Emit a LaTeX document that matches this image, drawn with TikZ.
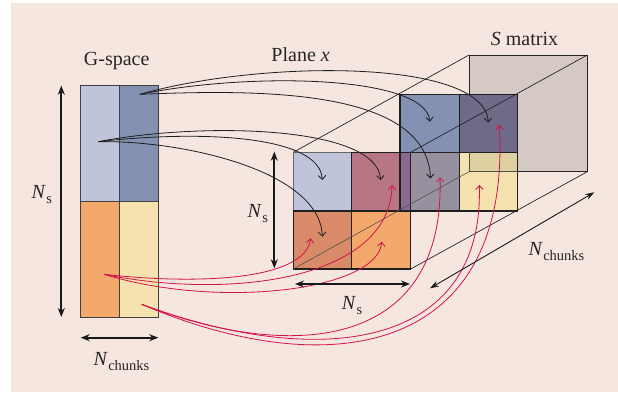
\documentclass[tikz,border=0pt]{standalone}
\usepackage{fontspec}
\setmainfont{Liberation Serif}
\usetikzlibrary{arrows.meta}
\definecolor{bgc}{HTML}{F5E6E0}
\definecolor{lblue}{HTML}{BFC4DA}
\definecolor{dblue}{HTML}{8591B3}
\definecolor{orng}{HTML}{F3A96C}
\definecolor{ylw}{HTML}{F5E2AF}
\definecolor{terra}{HTML}{D98A68}
\definecolor{mauve}{HTML}{B87583}
\definecolor{pstrip}{HTML}{8A6A8E}
\definecolor{grayc}{HTML}{97919F}
\definecolor{dpurp}{HTML}{6E6A88}
\definecolor{backg}{HTML}{D4C9C5}
\definecolor{tanc}{HTML}{DED0A0}
\definecolor{crim}{HTML}{D2124A}
\newcommand{\Nlab}[1]{\textit{N}\kern0.5pt\raisebox{-0.27em}{\fontsize{14.5}{15}\selectfont #1}}
\begin{document}
\begin{tikzpicture}[x=1pt,y=-1pt,
  cellbd/.style={draw=black!88, line width=1.1pt},
  gcell/.style={draw=black!75, line width=0.9pt},
  boxedge/.style={draw=black!85, line width=0.7pt},
  hidden/.style={draw=black!70, line width=0.55pt},
  blkarrow/.style={draw=black!88, line width=0.8pt, -{Straight Barb[length=4pt,width=7.5pt]}},
  redarrow/.style={draw=crim, line width=0.8pt, -{Straight Barb[length=4pt,width=7.5pt]}},
  dimarrow/.style={draw=black!90, line width=1.8pt, {Stealth[length=9pt,width=7pt]}-{Stealth[length=9pt,width=7pt]}},
  dimthin/.style={draw=black!90, line width=0.9pt, {Stealth[length=9pt,width=6pt]}-{Stealth[length=9pt,width=6pt]}},
  lab/.style={font=\fontsize{20}{24}\selectfont, inner sep=0pt, text=black!85}]
\useasboundingbox (0,0) rectangle (618,394);
\fill[white] (0,0) rectangle (618,394);
\fill[bgc] (11,3) rectangle (618,392);

% ---------- G-space column ----------
\filldraw[fill=lblue, gcell] (80.7,85) rectangle (119.3,201.7);
\filldraw[fill=dblue, gcell] (119.3,85) rectangle (158.3,201.7);
\filldraw[fill=orng, gcell] (80.7,201.7) rectangle (119.3,317.7);
\filldraw[fill=ylw, gcell] (119.3,201.7) rectangle (158.3,317.7);

% ---------- S matrix box ----------
\coordinate (FTL) at (293.3,152.3);
\coordinate (FTR) at (410.7,152.3);
\coordinate (FBR) at (410.7,269);
\coordinate (FBL) at (293.3,269);
\coordinate (BTL) at (469,55);
\coordinate (BTR) at (587.3,55);
\coordinate (BBR) at (587.3,171.7);
\coordinate (BBL) at (469,171.7);
\filldraw[fill=backg, boxedge] (BTL) rectangle (BBR);
\draw[boxedge] (FTL) -- (BTL);
\draw[boxedge] (FBR) -- (BBR);

% second plane
\filldraw[fill=dblue, cellbd] (400,94.3) rectangle (459.3,152.3);
\filldraw[fill=dpurp, cellbd] (459.3,94.3) rectangle (517.7,152.3);
\filldraw[fill=grayc, cellbd] (400,152.3) rectangle (459.3,211);
\filldraw[fill=ylw, cellbd] (459.3,152.3) rectangle (517.7,211);
\fill[tanc] (469,152.9) rectangle (517.1,171.7);
\draw[hidden] (469,152.3) -- (BBL) -- (517.7,171.7);
\draw[boxedge] (FTR) -- (BTR);

% front plane
\filldraw[fill=lblue, draw=black!60, line width=1.1pt] (293.3,152.3) rectangle (351.7,211);
\filldraw[fill=mauve, cellbd] (351.7,152.3) rectangle (410.7,211);
\filldraw[fill=pstrip, cellbd] (400,152.3) rectangle (410.7,211);
\filldraw[fill=terra, cellbd] (293.3,211) rectangle (351.7,269);
\filldraw[fill=orng, cellbd] (351.7,211) rectangle (410.7,269);
\draw[hidden] (FBL) -- (BBL);

% ---------- curve end points ----------
\coordinate (o1) at (140,94.3);
\coordinate (o2) at (98.3,141.7);
\coordinate (o3) at (104,274.3);
\coordinate (o4) at (141.7,304.3);
\coordinate (ta) at (488.3,122.7);
\coordinate (tb) at (430,121.7);
\coordinate (tc) at (430.5,178.5);
\coordinate (td) at (380.7,180);
\coordinate (te) at (322.3,180);
\coordinate (tf) at (322.3,236.7);
\coordinate (tg) at (310.7,238.3);
\coordinate (th) at (392,185);
\coordinate (ti) at (381.7,241.7);
\coordinate (tj) at (440,177.3);
\coordinate (tk) at (479.3,185);
\coordinate (tl) at (499.3,125);

% black arrows
\draw[blkarrow] (o1) .. controls (260,60) and (485,58) .. (ta);
\draw[blkarrow] (o1) .. controls (250,72) and (425,75) .. (tb);
\draw[blkarrow] (o1) .. controls (250,90) and (427,86) .. (tc);
\draw[blkarrow] (o2) .. controls (200,122) and (377,125) .. (td);
\draw[blkarrow] (o2) .. controls (200,130) and (320,135) .. (te);
\draw[blkarrow] (o2) .. controls (180,140) and (320,170) .. (tf);

% red arrows
\draw[redarrow] (o3) .. controls (200,285) and (305,280) .. (tg);
\draw[redarrow] (o3) .. controls (230,300) and (390,280) .. (th);
\draw[redarrow] (o3) .. controls (220,310) and (378,290) .. (ti);
\draw[redarrow] (o4) .. controls (300,365) and (445,345) .. (tj);
\draw[redarrow] (o4) .. controls (320,370) and (484,350) .. (tk);
\draw[redarrow] (o4) .. controls (330,385) and (512,355) .. (tl);

% ---------- dimension arrows ----------
\coordinate (dl1) at (61.3,85.7);  \coordinate (dl2) at (61.3,317);
\coordinate (db1) at (80.7,337.7); \coordinate (db2) at (158.3,337.7);
\coordinate (dv1) at (274.3,151.7); \coordinate (dv2) at (274.3,268.3);
\coordinate (dh1) at (295,284);    \coordinate (dh2) at (410,284);
\coordinate (dd1) at (430,288.3);  \coordinate (dd2) at (594.3,192.3);
\draw[dimarrow] (dl1) -- (dl2);
\draw[dimarrow] (db1) -- (db2);
\draw[dimarrow] (dv1) -- (dv2);
\draw[dimarrow] (dh1) -- (dh2);
\draw[dimthin] (dd1) -- (dd2);

% ---------- labels ----------
\node[lab, anchor=base] (gspace) at (116.7,65) {G-space};
\node[lab, anchor=base] (planex) at (300.6,61.5) {Plane \textit{x}};
\node[lab, anchor=base] (smat) at (524.5,45.7) {\textit{S} matrix};
\node[lab, anchor=base west] (nsl) at (31.5,198.3) {\Nlab{s}};
\node[lab, anchor=base west] (nsf) at (247.3,217.3) {\Nlab{s}};
\node[lab, anchor=base west] (nsb) at (341.7,309) {\Nlab{s}};
\node[lab, anchor=base west] (ncb) at (93.3,365) {\Nlab{chunks}};
\node[lab, anchor=base west] (ncr) at (528.3,255) {\Nlab{chunks}};
\end{tikzpicture}
\end{document}
